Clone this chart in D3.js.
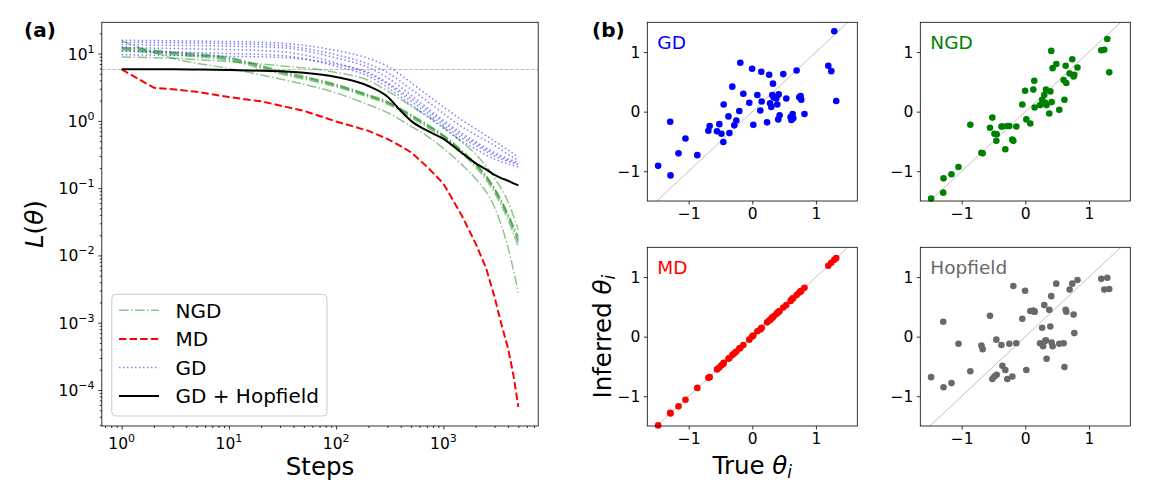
<!DOCTYPE html>
<html>
<head>
<meta charset="utf-8">
<script src="https://cdn.jsdelivr.net/npm/d3@7"></script>
<style>
  body { margin: 0; background: #fff; }
  svg text { font-family: "DejaVu Sans", sans-serif; fill: #000; }
</style>
</head>
<body>
<svg id="chart" width="1152" height="504"></svg>
<script>
// ---- panel (a): loss vs steps ----
var steps = [1, 2, 3, 5, 10, 20, 50, 100, 200, 300, 400, 500, 700, 1000, 1500, 2000, 2500, 3000, 3500, 4000, 4500, 5000];
var mdLoss = [5.8, 3.1, 2.95, 2.7, 2.26, 1.95, 1.41, 0.98, 0.71, 0.54, 0.42, 0.34, 0.21, 0.117, 0.038, 0.015, 0.0065, 0.0024, 0.00091, 0.00042, 0.000166, 0.000056];
var hopfieldLoss = [5.85, 5.84, 5.83, 5.8, 5.7, 5.55, 5.2, 4.5, 3.3, 2.3, 1.41, 1.0, 0.72, 0.54, 0.33, 0.234, 0.19, 0.158, 0.14, 0.129, 0.118, 0.110];

var runSteps = [1, 3, 10, 30, 100, 200, 300, 500, 700, 1000, 1500, 2000, 3000, 4000, 5000];
var gdRuns = [
  [15.8, 15.5, 15.1, 14.3, 11.1, 8.5, 6.5, 3.7, 2.45, 1.62, 1.02, 0.76, 0.50, 0.37, 0.29],
  [14.8, 14.5, 14.1, 13.2, 9.6, 7.0, 5.25, 2.95, 1.98, 1.29, 0.81, 0.62, 0.43, 0.32, 0.26],
  [13.6, 13.3, 12.9, 12.3, 8.6, 6.2, 4.4, 2.4, 1.58, 1.02, 0.65, 0.49, 0.34, 0.275, 0.24],
  [12.3, 11.9, 11.5, 10.7, 7.25, 5.0, 3.55, 1.95, 1.32, 0.87, 0.55, 0.43, 0.30, 0.25, 0.224],
  [10.8, 10.5, 10.0, 9.4, 6.45, 4.6, 3.16, 1.74, 1.17, 0.78, 0.49, 0.38, 0.27, 0.23, 0.207],
  [9.6, 9.4, 9.1, 8.8, 6.9, 5.25, 3.7, 2.15, 1.45, 0.95, 0.60, 0.46, 0.32, 0.26, 0.23]
];
var ngdRuns = [
  [15.4, 8.5, 6.0, 4.2, 2.6, 1.74, 1.33, 0.83, 0.60, 0.39, 0.22, 0.138, 0.052, 0.0132, 0.0028],
  [12.5, 10.6, 8.8, 5.6, 3.5, 2.45, 1.95, 1.24, 0.90, 0.62, 0.36, 0.235, 0.10, 0.042, 0.019],
  [11.7, 10.0, 8.3, 5.25, 3.33, 2.34, 1.86, 1.18, 0.85, 0.59, 0.34, 0.22, 0.093, 0.038, 0.0158],
  [11.2, 9.6, 7.9, 5.0, 3.2, 2.25, 1.78, 1.12, 0.81, 0.56, 0.32, 0.205, 0.085, 0.034, 0.0135],
  [12.0, 10.3, 8.5, 5.4, 3.4, 2.4, 1.9, 1.2, 0.87, 0.60, 0.35, 0.228, 0.097, 0.040, 0.017],
  [8.9, 8.5, 7.6, 6.6, 5.25, 4.0, 2.8, 1.66, 1.2, 0.81, 0.48, 0.32, 0.141, 0.063, 0.024]
];
var thresholdLoss = 5.8;
var xExponents = [0, 1, 2, 3];
var yExponents = [-4, -3, -2, -1, 0, 1];
var legendLabels = ["NGD", "MD", "GD", "GD + Hopfield"];

// ---- panel (b): inferred vs true parameters ----
var trueTheta = [-1.48, -1.285, -1.29, -1.16, -1.05, -0.864, -0.69, -0.67, -0.555, -0.518, -0.485, -0.455, -0.45, -0.375, -0.36, -0.314, -0.283, -0.251, -0.204, -0.188, -0.141, -0.047, -0.003, 0.016, 0.079, 0.126, 0.141, 0.147, 0.232, 0.265, 0.28, 0.298, 0.314, 0.325, 0.335, 0.377, 0.393, 0.408, 0.414, 0.429, 0.487, 0.534, 0.602, 0.615, 0.634, 0.644, 0.696, 0.738, 0.759, 0.77, 0.82, 1.194, 1.241, 1.288, 1.319];
var gdInferred = [-0.91, -1.07, -0.17, -0.70, -0.45, -0.73, -0.32, -0.24, -0.33, -0.21, -0.37, -0.51, 0.12, -0.08, -0.36, 0.42, -0.23, -0.15, 0.01, 0.82, 0.30, 0.15, 0.72, -0.22, 0.28, 0.02, 0.67, 0.17, -0.18, 0.62, 0.14, 0.08, 0.28, 0.47, 0.24, 0.22, 0.12, -0.13, 0.29, -0.06, 0.63, 0.22, -0.09, -0.14, -0.04, -0.11, 0.69, 0.24, 0.26, 0.20, -0.04, 0.77, 0.68, 1.35, 0.18];
var ngdInferred = [-1.46, -1.12, -1.36, -1.05, -0.93, -0.22, -0.69, -0.70, -0.27, -0.10, -0.37, -0.49, -0.38, -0.25, -0.25, -0.63, -0.24, -0.24, -0.47, -0.49, -0.25, 0.12, 0.35, -0.13, -0.20, 0.37, 0.52, 0.07, 0.11, 0.20, 0.14, 0.28, 0.15, 0.37, 0.11, -0.03, 0.34, 1.02, 0.16, 0.73, 0.80, 0.03, 0.53, 0.20, 0.77, 0.48, 0.64, 0.88, 0.59, 0.62, 0.74, 1.03, 1.04, 1.22, 0.66];
var mdInferred = [-1.49, -1.29, -1.28, -1.17, -1.06, -0.86, -0.69, -0.68, -0.55, -0.52, -0.48, -0.46, -0.44, -0.37, -0.36, -0.31, -0.28, -0.25, -0.20, -0.19, -0.14, -0.05, 0.0, 0.02, 0.09, 0.12, 0.14, 0.15, 0.24, 0.27, 0.28, 0.30, 0.32, 0.33, 0.34, 0.38, 0.40, 0.41, 0.42, 0.43, 0.49, 0.53, 0.60, 0.62, 0.64, 0.65, 0.70, 0.74, 0.76, 0.77, 0.82, 1.19, 1.24, 1.29, 1.32];
var hopfieldInferred = [-0.68, -0.85, 0.25, -0.78, -0.12, -0.58, -0.15, -0.21, 0.35, -0.71, -0.67, -0.05, -0.64, -0.14, -0.49, -0.56, -0.71, -0.12, -0.67, 0.85, -0.11, 0.30, 0.77, -0.56, 0.43, 0.44, 0.42, 0.42, -0.11, 0.15, -0.16, 0.53, -0.07, -0.06, -0.37, 0.45, 0.17, 0.68, -0.10, -0.16, 0.89, -0.12, -0.11, -0.51, 0.45, 0.42, 0.79, 0.89, 0.37, 0.06, 0.95, 0.97, 0.79, 0.99, 0.80];
var thetaTicks = [-1, 0, 1];

var svg = d3.select("#chart");
var MINUS = "\u2212";

function powLabel(t, e) {
  t.append("tspan").text("10");
  t.append("tspan").attr("dy", -7).attr("font-size", 11).text(e < 0 ? MINUS + (-e) : String(e));
}
function isPow10(v) {
  var l = Math.log10(v);
  return Math.abs(l - Math.round(l)) < 1e-6;
}

// ================= panel (a) =================
var A = {left: 101.8, right: 538.2, top: 22.3, bottom: 426};
var x = d3.scaleLog().domain([Math.pow(10, -0.185), Math.pow(10, 3.884)]).range([A.left, A.right]);
var y = d3.scaleLog().domain([Math.pow(10, -4.535), Math.pow(10, 1.465)]).range([A.bottom, A.top]);

svg.append("clipPath").attr("id", "clipA").append("rect")
  .attr("x", A.left).attr("y", A.top).attr("width", A.right - A.left).attr("height", A.bottom - A.top);

var plotA = svg.append("g").attr("clip-path", "url(#clipA)");

plotA.append("line")
  .attr("x1", A.left).attr("x2", A.right)
  .attr("y1", y(thresholdLoss)).attr("y2", y(thresholdLoss))
  .attr("stroke", "#aaaaaa").attr("stroke-width", 0.8).attr("stroke-dasharray", "3.7,1.6");

var line = d3.line().x(function (d) { return x(d[0]); }).y(function (d) { return y(d[1]); }).curve(d3.curveMonotoneX);
// MD has a sharp corner at step 2, so keep straight segments there
var lineLin = d3.line().x(function (d) { return x(d[0]); }).y(function (d) { return y(d[1]); });
function pairs(xs, ys) { return xs.map(function (s, i) { return [s, ys[i]]; }); }

var styles = {
  NGD: {stroke: "green", opacity: 0.45, width: 1.5, dash: "9.6,2.4,1.5,2.4"},
  MD: {stroke: "red", opacity: 1, width: 2, dash: "7.4,3.2"},
  GD: {stroke: "blue", opacity: 0.5, width: 1.5, dash: "1.5,2.5"},
  HOP: {stroke: "black", opacity: 1, width: 2, dash: null}
};
function styled(p, st) {
  p.attr("fill", "none").attr("stroke", st.stroke).attr("stroke-opacity", st.opacity)
    .attr("stroke-width", st.width);
  if (st.dash) p.attr("stroke-dasharray", st.dash);
  return p;
}

ngdRuns.forEach(function (r) { styled(plotA.append("path").attr("d", line(pairs(runSteps, r))), styles.NGD); });
styled(plotA.append("path").attr("d", lineLin(pairs(steps, mdLoss))), styles.MD);
gdRuns.forEach(function (r) { styled(plotA.append("path").attr("d", line(pairs(runSteps, r))), styles.GD); });
styled(plotA.append("path").attr("d", line(pairs(steps, hopfieldLoss))), styles.HOP);

// axes
var xMajor = xExponents.map(function (e) { return Math.pow(10, e); });
var yMajor = yExponents.map(function (e) { return Math.pow(10, e); });
var xMinor = x.ticks().filter(function (v) { return !isPow10(v); });
var yMinor = y.ticks().filter(function (v) { return !isPow10(v); });

function tickAxis(axis, tr) {
  var g = svg.append("g").attr("transform", tr).call(axis);
  g.select(".domain").remove();
  g.selectAll("line").attr("stroke-width", 0.8);
  return g;
}
tickAxis(d3.axisBottom(x).tickValues(xMajor).tickSize(3.5).tickFormat(""), "translate(0," + A.bottom + ")");
tickAxis(d3.axisBottom(x).tickValues(xMinor).tickSize(2).tickFormat(""), "translate(0," + A.bottom + ")");
tickAxis(d3.axisLeft(y).tickValues(yMajor).tickSize(3.5).tickFormat(""), "translate(" + A.left + ",0)");
tickAxis(d3.axisLeft(y).tickValues(yMinor).tickSize(2).tickFormat(""), "translate(" + A.left + ",0)");

xExponents.forEach(function (e) {
  var t = svg.append("text").attr("x", x(Math.pow(10, e))).attr("y", 448.5)
    .attr("text-anchor", "middle").attr("font-size", 15.5);
  powLabel(t, e);
});
yExponents.forEach(function (e) {
  var t = svg.append("text").attr("x", 94.5).attr("y", y(Math.pow(10, e)) + 6)
    .attr("text-anchor", "end").attr("font-size", 15.5);
  powLabel(t, e);
});

svg.append("rect").attr("x", A.left).attr("y", A.top)
  .attr("width", A.right - A.left).attr("height", A.bottom - A.top)
  .attr("fill", "none").attr("stroke", "#000").attr("stroke-width", 0.8);

svg.append("text").attr("x", (A.left + A.right) / 2).attr("y", 475)
  .attr("text-anchor", "middle").attr("font-size", 24.5).text("Steps");

var yl = svg.append("text").attr("transform", "translate(43," + ((A.top + A.bottom) / 2) + ") rotate(-90)")
  .attr("text-anchor", "middle").attr("font-size", 24.5);
yl.append("tspan").attr("font-style", "italic").text("L");
yl.append("tspan").text("(");
yl.append("tspan").attr("font-style", "italic").text("\u03B8");
yl.append("tspan").text(")");

svg.append("text").attr("x", 24).attr("y", 37).attr("font-size", 20).attr("font-weight", "bold").text("(a)");

// legend
var leg = svg.append("g");
leg.append("rect").attr("x", 111.8).attr("y", 294.3).attr("width", 215.2).attr("height", 121.7)
  .attr("rx", 4).attr("fill", "#fff").attr("fill-opacity", 0.8).attr("stroke", "#cccccc").attr("stroke-width", 1);
var legStyles = [styles.NGD, styles.MD, styles.GD, styles.HOP];
legendLabels.forEach(function (lab, i) {
  var ly = 310.3 + i * 28.6;
  styled(leg.append("path").attr("d", "M119," + ly + "H159"), legStyles[i]);
  leg.append("text").attr("x", 175.5).attr("y", ly + 7.2).attr("font-size", 20).text(lab);
});

// ================= panel (b) =================
var PW = 210, PH = 178.7;
var sx = d3.scaleLinear().domain([-1.65, 1.65]).range([0, PW]);
var sy = d3.scaleLinear().domain([-1.5, 1.5]).range([PH, 0]);

var panels = [
  {name: "GD", color: "blue", vals: gdInferred, x0: 647.3, y0: 22.3},
  {name: "NGD", color: "green", vals: ngdInferred, x0: 920.3, y0: 22.3},
  {name: "MD", color: "red", vals: mdInferred, x0: 647.3, y0: 247.3},
  {name: "Hopfield", color: "dimgray", vals: hopfieldInferred, x0: 920.3, y0: 247.3}
];

panels.forEach(function (p) {
  var g = svg.append("g").attr("transform", "translate(" + p.x0 + "," + p.y0 + ")");
  g.append("line")
    .attr("x1", sx(-1.5)).attr("y1", sy(-1.5)).attr("x2", sx(1.5)).attr("y2", sy(1.5))
    .attr("stroke", "#b0b0b0").attr("stroke-width", 0.8);
  g.selectAll("circle").data(trueTheta).enter().append("circle")
    .attr("cx", function (d) { return sx(d); })
    .attr("cy", function (d, i) { return sy(p.vals[i]); })
    .attr("r", 3.3).attr("fill", p.color);

  var gx = g.append("g").attr("transform", "translate(0," + PH + ")")
    .call(d3.axisBottom(sx).tickValues(thetaTicks).tickSize(3.5).tickPadding(3.5)
      .tickFormat(function (d) { return d < 0 ? MINUS + (-d) : d; }));
  var gy = g.append("g")
    .call(d3.axisLeft(sy).tickValues(thetaTicks).tickSize(3.5).tickPadding(3.5)
      .tickFormat(function (d) { return d < 0 ? MINUS + (-d) : d; }));
  [gx, gy].forEach(function (a) {
    a.select(".domain").remove();
    a.selectAll("line").attr("stroke-width", 0.8);
    a.selectAll("text").attr("font-size", 15.5).attr("font-family", "DejaVu Sans");
  });

  g.append("rect").attr("width", PW).attr("height", PH)
    .attr("fill", "none").attr("stroke", "#000").attr("stroke-width", 0.8);
  g.append("text").attr("x", 10).attr("y", 26.3).attr("font-size", 18.5)
    .style("fill", p.color).text(p.name);
});

svg.append("text").attr("x", 592).attr("y", 37).attr("font-size", 20).attr("font-weight", "bold").text("(b)");

var il = svg.append("text").attr("transform", "translate(611," + (247.3 + PH / 2) + ") rotate(-90)")
  .attr("text-anchor", "middle").attr("font-size", 24.5);
il.append("tspan").text("Inferred ");
il.append("tspan").attr("font-style", "italic").text("\u03B8");
il.append("tspan").attr("font-style", "italic").attr("font-size", 17).attr("dy", 4).text("i");

var tl = svg.append("text").attr("x", 647.3 + PW / 2).attr("y", 474)
  .attr("text-anchor", "middle").attr("font-size", 24.5);
tl.append("tspan").text("True ");
tl.append("tspan").attr("font-style", "italic").text("\u03B8");
tl.append("tspan").attr("font-style", "italic").attr("font-size", 17).attr("dy", 4).text("i");
</script>
</body>
</html>
